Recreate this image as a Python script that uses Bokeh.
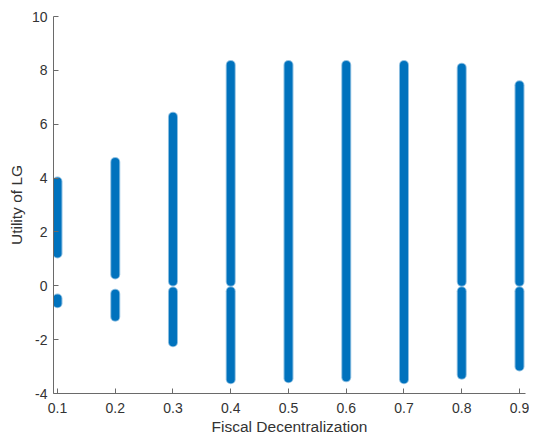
from bokeh.plotting import figure
from bokeh.models import Range1d, FixedTicker
from bokeh.embed import file_html
from bokeh.resources import INLINE

# Fiscal decentralization level of each vertical run of points
fd = [0.1, 0.1, 0.2, 0.2, 0.3, 0.3, 0.4, 0.4, 0.5, 0.6, 0.7, 0.8, 0.8, 0.9, 0.9]
# lowest and highest utility of each run
u_low = [1.20, -0.65, 0.42, -1.15, 0.16, -2.10, 0.15, -3.47, -3.43, -3.40, -3.47, 0.15, -3.30, 0.15, -3.00]
u_high = [3.87, -0.47, 4.60, -0.30, 6.28, -0.21, 8.20, -0.20, 8.20, 8.20, 8.20, 8.10, -0.20, 7.45, -0.20]

x_ticks = [0.1, 0.2, 0.3, 0.4, 0.5, 0.6, 0.7, 0.8, 0.9]
y_ticks = [-4, -2, 0, 2, 4, 6, 8, 10]
y_tick_labels = {t: str(t) for t in y_ticks}

BLUE = "#0072BD"
TXT = "#333333"
AX = "#6a6a6a"

p = figure(width=529, height=437,
           x_range=Range1d(0.1 - 0.0069, 0.9 + 0.0104), y_range=Range1d(-4, 10),
           output_backend="svg", toolbar_location=None,
           min_border_left=53, min_border_right=4, min_border_top=16, min_border_bottom=44)
p.outline_line_color = None
p.xgrid.grid_line_color = None
p.ygrid.grid_line_color = None
p.background_fill_color = "white"
p.border_fill_color = "white"

p.segment(x0=fd, y0=u_low, x1=fd, y1=u_high, line_color=BLUE, line_alpha=0.45,
          line_width=10, line_cap="round")
p.segment(x0=fd, y0=u_low, x1=fd, y1=u_high, line_color=BLUE,
          line_width=8, line_cap="round")

p.xaxis.ticker = FixedTicker(ticks=x_ticks)
p.yaxis.ticker = FixedTicker(ticks=y_ticks)
p.yaxis.major_label_overrides = y_tick_labels
p.xaxis.axis_label = "Fiscal Decentralization"
p.yaxis.axis_label = "Utility of LG"

for ax in (p.xaxis, p.yaxis):
    ax.axis_line_color = AX
    ax.major_tick_line_color = AX
    ax.major_tick_in = 5
    ax.major_tick_out = 0
    ax.minor_tick_line_color = None
    ax.major_label_text_font = "Liberation Sans"
    ax.major_label_text_font_size = "14px"
    ax.major_label_text_color = TXT
    ax.axis_label_text_font = "Liberation Sans"
    ax.axis_label_text_font_size = "15.5px"
    ax.axis_label_text_font_style = "normal"
    ax.axis_label_text_color = TXT

p.xaxis.major_label_standoff = 9
p.xaxis.axis_label_standoff = 2
p.yaxis.major_label_standoff = 6
p.yaxis.axis_label_standoff = 4

open("out.html", "w").write(file_html(p, INLINE))
